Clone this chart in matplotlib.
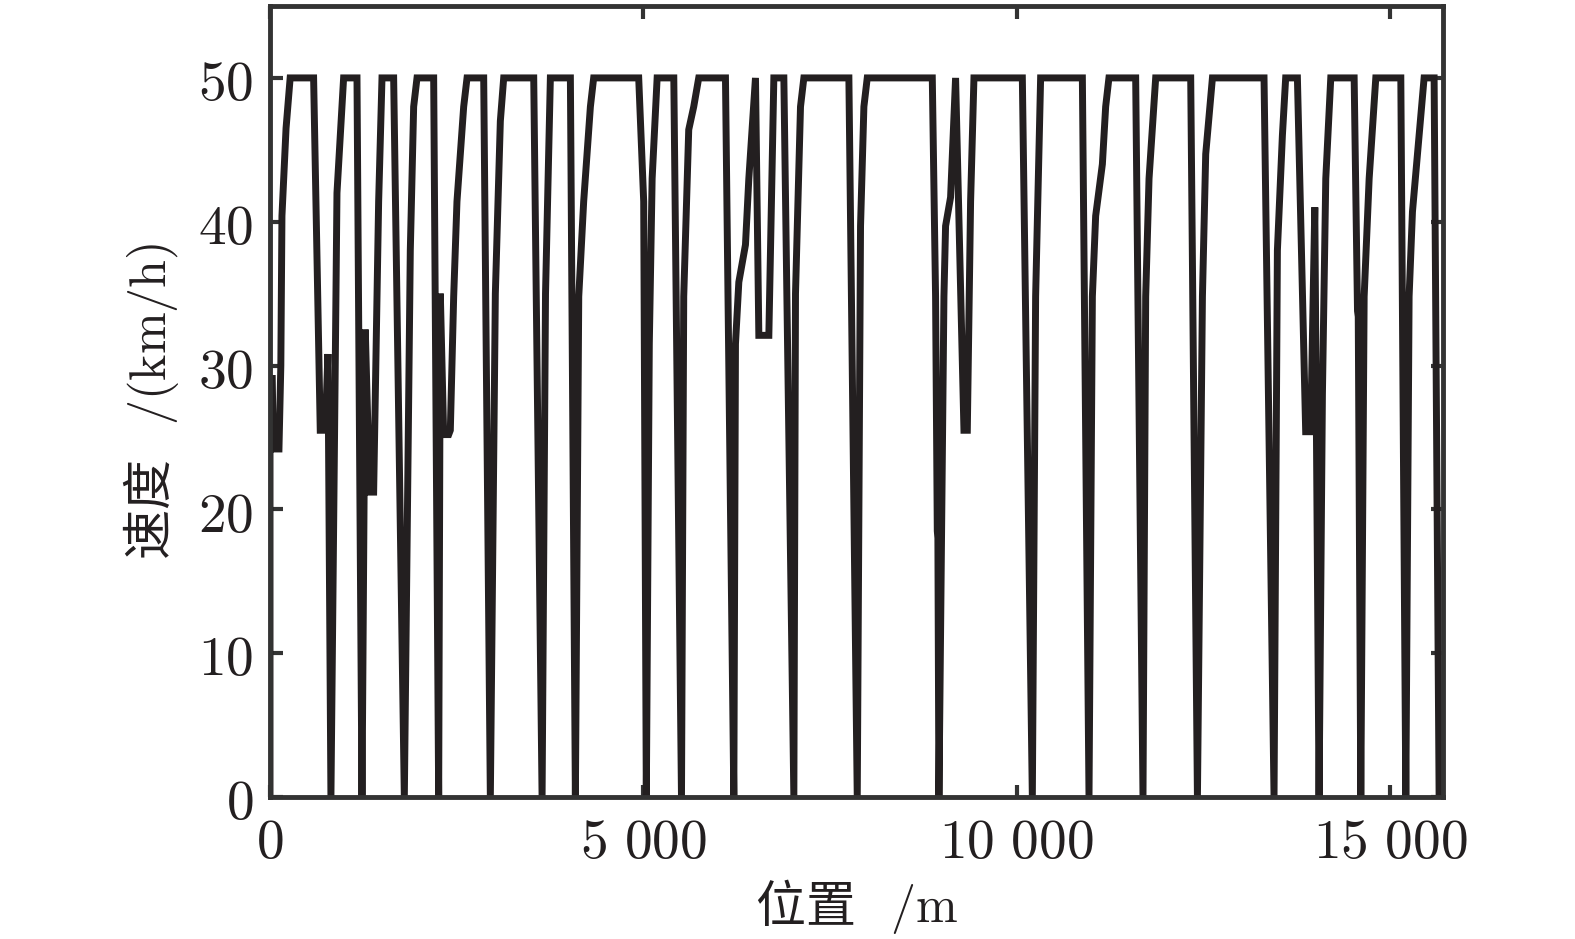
import matplotlib
matplotlib.use("Agg")
import matplotlib.pyplot as plt

plt.rcParams['font.family'] = ['Noto Sans CJK SC', 'DejaVu Sans']
plt.rcParams['mathtext.fontset'] = 'cm'

# 位置 (m) 与 速度 (km/h)
pos = [0, 0, 30, 45, 120, 145, 160, 215, 270,
       584, 673, 740, 776, 816, 897, 986,
       1165, 1232, 1276, 1334, 1388, 1455, 1500,
       1656, 1736, 1799, 1879, 1924, 1969,
       2192, 2259, 2281, 2326, 2393, 2415, 2460, 2504, 2594, 2639,
       2862, 2951, 3018, 3085, 3130,
       3532, 3644, 3690, 3755,
       4023, 4090, 4135, 4201, 4291, 4335,
       4938, 5005, 5040, 5080, 5118, 5185,
       5408, 5511, 5541, 5608, 5675, 5742,
       6100, 6212, 6234, 6279, 6368, 6413, 6502, 6547, 6681, 6748,
       6882, 7016, 7038, 7105, 7150,
       7753, 7865, 7909, 7954, 7999,
       8870, 8914, 8937, 8945, 8959, 9026, 9048, 9115, 9182, 9294, 9339, 9383, 9428,
       10076, 10210, 10254, 10321,
       10880, 10969, 11014, 11058, 11148, 11192, 11236,
       11594, 11692, 11728, 11773, 11862,
       12331, 12421, 12488, 12532, 12622,
       13313, 13447, 13492, 13559, 13603,
       13760, 13871, 13938, 13993, 14050, 14095, 14140, 14207,
       14520, 14565, 14575, 14609, 14654, 14721, 14810,
       15145, 15212, 15256, 15301, 15368, 15457,
       15591, 15658]

speed = [0, 29.1, 29.1, 24.2, 24.2, 30, 40.4, 46.5, 50,
         50, 25.5, 25.5, 30.8, 0, 42, 50,
         50, 0, 32.5, 21.2, 21.2, 41.4, 50,
         50, 21.9, 0, 38, 48, 50,
         50, 0, 35, 25.2, 25.2, 25.5, 34.8, 41.4, 48, 50,
         50, 0, 35, 47, 50,
         50, 0, 35, 50,
         50, 0, 34.8, 41.4, 48, 50,
         50, 41.4, 0, 31.5, 43, 50,
         50, 0, 34.8, 46.4, 48, 50,
         50, 0, 31.5, 35.8, 38.4, 43, 50, 32.1, 32.1, 50,
         50, 0, 35, 48, 50,
         50, 0, 39.7, 48, 50,
         50, 34.8, 18.5, 18.0, 0, 34.8, 39.7, 41.7, 50, 25.5, 25.5, 41.4, 50,
         50, 0, 34.8, 50,
         50, 0, 34.8, 40.4, 44, 48, 50,
         50, 0, 34.8, 43, 50,
         50, 0, 34.8, 44.7, 50,
         50, 0, 38, 46, 50,
         50, 25.4, 25.4, 41, 0, 28, 43, 50,
         50, 33.8, 33.4, 0, 34.8, 43, 50,
         50, 0, 34.8, 40.7, 44.7, 50,
         50, 0]

xticks = [0, 5000, 10000, 15000]
xticklabels = [r'$0$', r'$5\ 000$', r'$10\ 000$', r'$15\ 000$']
yticks = [0, 10, 20, 30, 40, 50]
yticklabels = [r'$%d$' % v for v in yticks]

fig = plt.figure(figsize=(15.75, 9.39), dpi=100)
ax = fig.add_axes([270 / 1575, 1 - 797 / 939, (1443 - 270) / 1575, (797 - 6) / 939])

ax.plot(pos, speed, color='#231f20', lw=5.0, solid_joinstyle='miter')

ax.set_xlim(0, 15710)
ax.set_ylim(0, 55)

ax.set_xticks(xticks)
ax.set_xticklabels(xticklabels)
ax.set_yticks(yticks)
ax.set_yticklabels(yticklabels)

edge = '#333333'
for s in ax.spines.values():
    s.set_linewidth(3.5)
    s.set_color(edge)
ax.tick_params(direction='in', top=True, right=True, length=9, width=3,
               color=edge, labelsize=40, labelcolor='#231f20', pad=12)

ax.set_xlabel(r'位置 $\;\;/\mathrm{m}$', fontsize=36, color='#231f20', labelpad=4)
ax.set_ylabel(r'速度 $\;\;/(\mathrm{km/h})$', fontsize=36, color='#231f20', labelpad=12)

fig.savefig('out.png', dpi=100)
